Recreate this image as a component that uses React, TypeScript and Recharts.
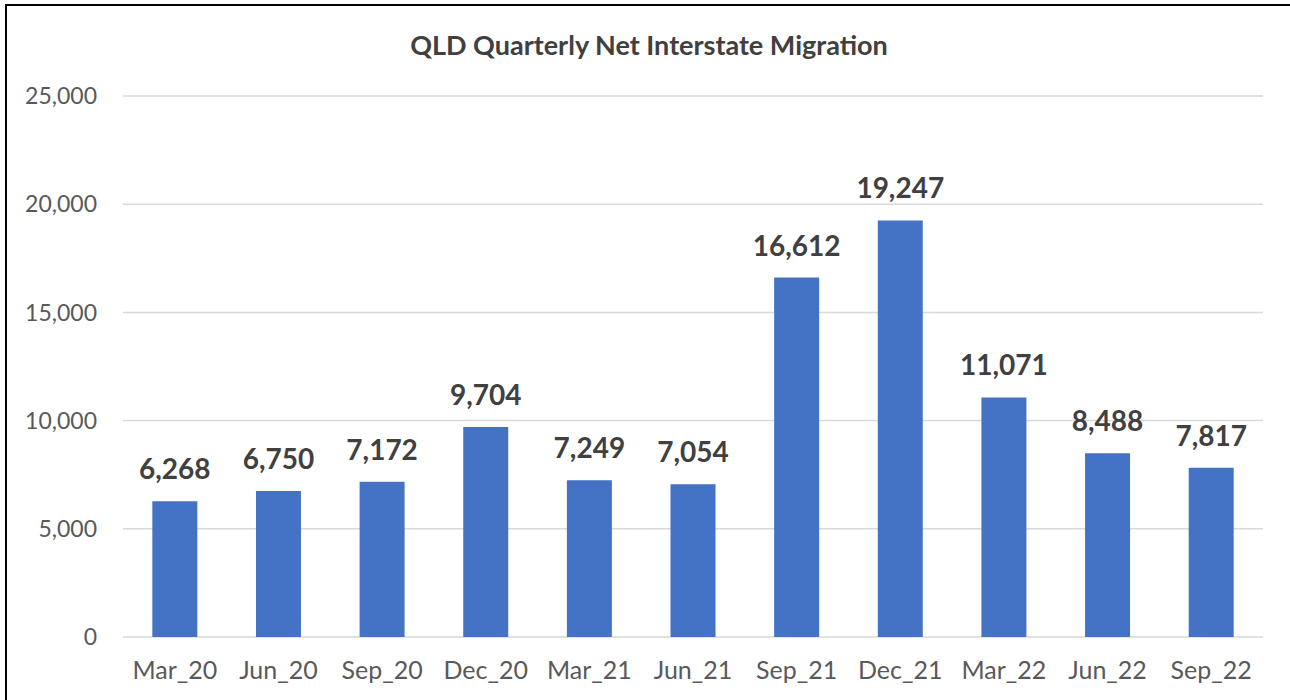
import React from 'react';
import { BarChart, Bar, XAxis, YAxis, CartesianGrid, LabelList } from 'recharts';

const quarters = ['Mar_20', 'Jun_20', 'Sep_20', 'Dec_20', 'Mar_21', 'Jun_21', 'Sep_21', 'Dec_21', 'Mar_22', 'Jun_22', 'Sep_22'];
const netMigration = [6268, 6750, 7172, 9704, 7249, 7054, 16612, 19247, 11071, 8488, 7817];
const yTicks = [0, 5000, 10000, 15000, 20000, 25000];

const data = quarters.map((q, i) => ({ quarter: q, value: netMigration[i] }));

const fmt = (v: number) => v.toLocaleString('en-US');
const font = 'Lato, "Open Sans", sans-serif';

const App = () => {
    return (
        <div style={{ position: 'absolute', left: 0, top: 0, width: 1290, height: 700, background: 'white', overflow: 'hidden', fontFamily: font }}>
            <div style={{ position: 'absolute', left: 5, top: 4, width: 1300, height: 720, borderLeft: '2px solid #000', borderTop: '2px solid #000' }} />
            <div style={{ position: 'absolute', left: 0, top: 28, width: 1298, textAlign: 'center', fontSize: 27, fontWeight: 'bold', color: '#404040' }}>
                QLD Quarterly Net Interstate Migration
            </div>
            <div style={{ position: 'absolute', left: 0, top: 0 }}>
                <BarChart width={1290} height={700} data={data} margin={{ top: 96, right: 27, bottom: 13, left: 10 }} barCategoryGap="28.3%">
                    <CartesianGrid vertical={false} stroke="#d9d9d9" strokeWidth={1.5} />
                    <XAxis
                        dataKey="quarter"
                        axisLine={false}
                        tickLine={false}
                        tickSize={0}
                        tickMargin={24}
                        height={50}
                        interval={0}
                        tick={{ fill: '#595959', fontSize: 25, fontFamily: font }}
                    />
                    <YAxis
                        domain={[0, 25000]}
                        ticks={yTicks}
                        tickFormatter={fmt}
                        axisLine={false}
                        tickLine={false}
                        tickSize={0}
                        tickMargin={26}
                        width={113}
                        tick={{ fill: '#595959', fontSize: 23, fontFamily: font }}
                    />
                    <Bar dataKey="value" fill="#4472C4" isAnimationActive={false}>
                        <LabelList
                            dataKey="value"
                            position="top"
                            offset={22}
                            formatter={(v: any) => fmt(Number(v))}
                            style={{ fill: '#404040', fontSize: 28, fontWeight: 'bold', fontFamily: font }}
                        />
                    </Bar>
                </BarChart>
            </div>
        </div>
    );
};

export default App;
